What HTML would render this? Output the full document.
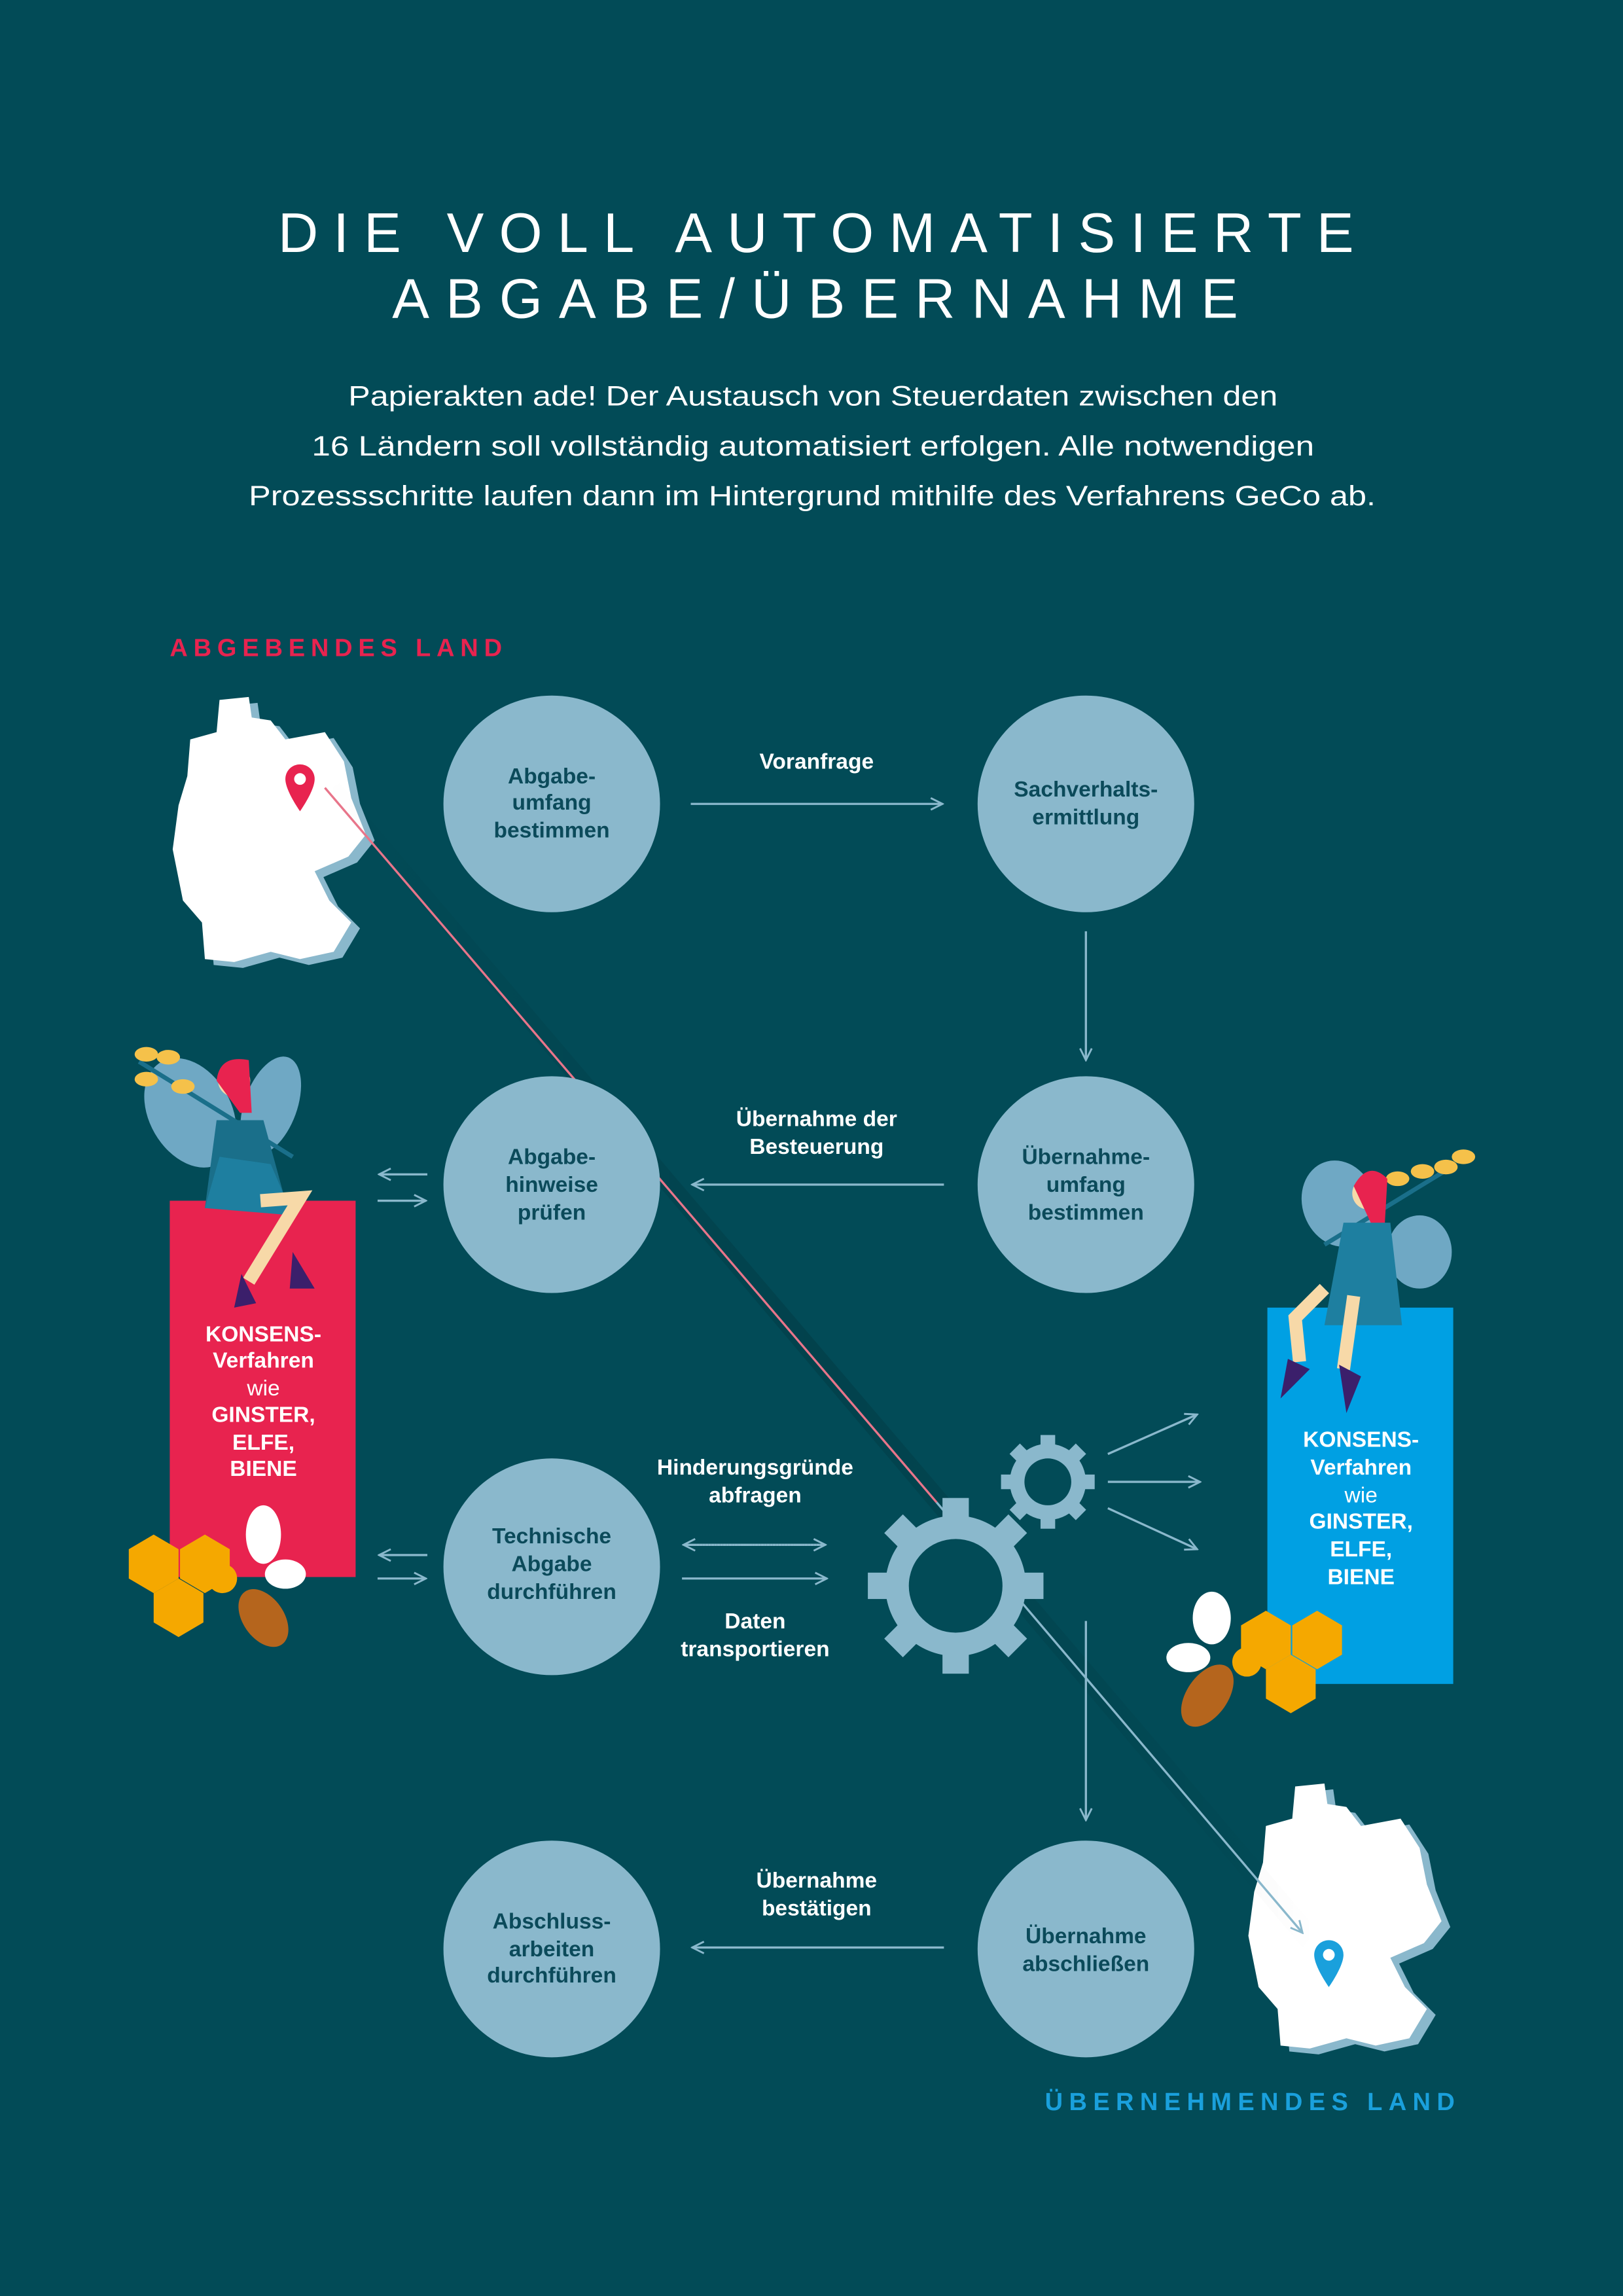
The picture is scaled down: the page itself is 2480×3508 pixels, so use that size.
<!DOCTYPE html>
<html><head><meta charset="utf-8"><style>
html,body{margin:0;padding:0;background:#024b57;}
svg{display:block;}
text{font-family:"Liberation Sans",sans-serif;}
</style></head><body>
<svg width="2480" height="3508" viewBox="0 0 1109 1568" preserveAspectRatio="none" xmlns="http://www.w3.org/2000/svg">
<defs>
<marker id="ah" markerWidth="10" markerHeight="10" refX="9" refY="5" orient="auto" markerUnits="userSpaceOnUse">
<path d="M1,1 L9,5 L1,9" fill="none" stroke="#8ab8cc" stroke-width="1.3"/></marker>
<linearGradient id="sh" x1="0" y1="0" x2="1" y2="0"><stop offset="0" stop-color="#000" stop-opacity="0"/><stop offset="0.5" stop-color="#000" stop-opacity="0.25"/><stop offset="1" stop-color="#000" stop-opacity="0"/></linearGradient>
<g id="de">
<polygon points="150,478 170,476 172,490 185,492 195,505 222,500 235,520 240,545 250,570 238,585 215,595 225,615 240,630 228,650 205,655 185,650 160,657 140,655 138,630 125,615 118,580 122,550 128,530 130,505 148,500"/>
</g>
</defs>
<rect width="1109" height="1568" fill="#024b57"/>

<text x="190" y="172" font-size="38" fill="#fff" textLength="735" lengthAdjust="spacing">DIE VOLL AUTOMATISIERTE</text>
<text x="268" y="217" font-size="38" fill="#fff" textLength="578" lengthAdjust="spacing">ABGABE/ÜBERNAHME</text>

<text x="238" y="277" font-size="19" fill="#fff" textLength="635" lengthAdjust="spacingAndGlyphs">Papierakten ade! Der Austausch von Steuerdaten zwischen den</text>
<text x="213" y="311" font-size="19" fill="#fff" textLength="685" lengthAdjust="spacingAndGlyphs">16 Ländern soll vollständig automatisiert erfolgen. Alle notwendigen</text>
<text x="170" y="345" font-size="19" fill="#fff" textLength="770" lengthAdjust="spacingAndGlyphs">Prozessschritte laufen dann im Hintergrund mithilfe des Verfahrens GeCo ab.</text>

<text x="116" y="448" font-size="17" font-weight="bold" fill="#e8234f" textLength="227" lengthAdjust="spacing">ABGEBENDES LAND</text>
<text x="714" y="1441" font-size="17" font-weight="bold" fill="#1aa0dc" textLength="280" lengthAdjust="spacing">ÜBERNEHMENDES LAND</text>

<!-- maps -->
<use href="#de" fill="#8ab8cc" transform="translate(6,4)"/>
<use href="#de" fill="#fff"/>
<use href="#de" fill="#8ab8cc" transform="translate(741,746)"/>
<use href="#de" fill="#fff" transform="translate(735,742)"/>
<!-- diagonal line -->
<polygon points="222,540 232,535 900,1318 890,1330" fill="url(#sh)" opacity="0.5"/>
<line x1="222" y1="538" x2="640" y2="1026" stroke="#e8758a" stroke-width="1.5"/>
<line x1="640" y1="1026" x2="890" y2="1320" stroke="#8ab8cc" stroke-width="1.5" marker-end="url(#ah)"/>
<path d="M205,522 a10,10 0 0 1 10,10 c0,8 -10,22 -10,22 c0,0 -10,-14 -10,-22 a10,10 0 0 1 10,-10z" fill="#e8234f"/>
<circle cx="205" cy="532" r="4" fill="#fff"/>
<path d="M908,1325 a10,10 0 0 1 10,10 c0,8 -10,22 -10,22 c0,0 -10,-14 -10,-22 a10,10 0 0 1 10,-10z" fill="#1aa0dc"/>
<circle cx="908" cy="1335" r="4" fill="#fff"/>

<!-- circles -->
<g fill="#8ab8cc">
<circle cx="377" cy="549" r="74"/><circle cx="742" cy="549" r="74"/>
<circle cx="377" cy="809" r="74"/><circle cx="742" cy="809" r="74"/>
<circle cx="377" cy="1070" r="74"/>
<circle cx="377" cy="1331" r="74"/><circle cx="742" cy="1331" r="74"/>
</g>
<g font-size="15" font-weight="bold" fill="#0b4a5a" text-anchor="middle">
<text x="377" y="535">Abgabe-</text><text x="377" y="553">umfang</text><text x="377" y="572">bestimmen</text>
<text x="742" y="544">Sachverhalts-</text><text x="742" y="563">ermittlung</text>
<text x="377" y="795">Abgabe-</text><text x="377" y="814">hinweise</text><text x="377" y="833">prüfen</text>
<text x="742" y="795">Übernahme-</text><text x="742" y="814">umfang</text><text x="742" y="833">bestimmen</text>
<text x="377" y="1054">Technische</text><text x="377" y="1073">Abgabe</text><text x="377" y="1092">durchführen</text>
<text x="377" y="1317">Abschluss-</text><text x="377" y="1336">arbeiten</text><text x="377" y="1354">durchführen</text>
<text x="742" y="1327">Übernahme</text><text x="742" y="1346">abschließen</text>
</g>

<!-- arrows -->
<g stroke="#8ab8cc" stroke-width="1.5" fill="none">
<line x1="472" y1="549" x2="644" y2="549" marker-end="url(#ah)"/>
<line x1="742" y1="636" x2="742" y2="724" marker-end="url(#ah)"/>
<line x1="645" y1="809" x2="473" y2="809" marker-end="url(#ah)"/>
<line x1="645" y1="1330" x2="473" y2="1330" marker-end="url(#ah)"/>
<line x1="742" y1="1107" x2="742" y2="1243" marker-end="url(#ah)"/>
<line x1="292" y1="802" x2="259" y2="802" marker-end="url(#ah)"/>
<line x1="258" y1="820" x2="291" y2="820" marker-end="url(#ah)"/>
<line x1="292" y1="1062" x2="259" y2="1062" marker-end="url(#ah)"/>
<line x1="258" y1="1078" x2="291" y2="1078" marker-end="url(#ah)"/>
<line x1="470" y1="1055" x2="564" y2="1055" stroke-dasharray="2,2" marker-end="url(#ah)"/>
<line x1="562" y1="1055" x2="467" y2="1055" stroke-dasharray="2,2" marker-end="url(#ah)"/>
<line x1="466" y1="1078" x2="565" y2="1078" marker-end="url(#ah)"/>
<line x1="757" y1="993" x2="818" y2="966" marker-end="url(#ah)"/>
<line x1="757" y1="1012" x2="820" y2="1012" marker-end="url(#ah)"/>
<line x1="757" y1="1030" x2="818" y2="1058" marker-end="url(#ah)"/>
</g>
<g font-size="15" font-weight="bold" fill="#fff" text-anchor="middle">
<text x="558" y="525">Voranfrage</text>
<text x="558" y="769">Übernahme der</text><text x="558" y="788">Besteuerung</text>
<text x="516" y="1007">Hinderungsgründe</text><text x="516" y="1026">abfragen</text>
<text x="516" y="1112">Daten</text><text x="516" y="1131">transportieren</text>
<text x="558" y="1289">Übernahme</text><text x="558" y="1308">bestätigen</text>
</g>

<!-- gears -->
<g fill="#8ab8cc">
<g transform="translate(653,1083)">
<circle r="48"/>
<g id="t8"><rect x="-9" y="-60" width="18" height="16"/><rect x="-9" y="44" width="18" height="16"/></g>
<use href="#t8" transform="rotate(45)"/><use href="#t8" transform="rotate(90)"/><use href="#t8" transform="rotate(135)"/>
<circle r="32" fill="#024b57"/>
</g>
<g transform="translate(716,1012)">
<circle r="26"/>
<g id="t9"><rect x="-5" y="-32" width="10" height="9"/><rect x="-5" y="23" width="10" height="9"/></g>
<use href="#t9" transform="rotate(45)"/><use href="#t9" transform="rotate(90)"/><use href="#t9" transform="rotate(135)"/>
<circle r="16" fill="#024b57"/>
</g>
</g>

<!-- red box -->
<rect x="116" y="820" width="127" height="257" fill="#e8234f"/>
<g font-size="15" font-weight="bold" fill="#fff" text-anchor="middle">
<text x="180" y="916">KONSENS-</text><text x="180" y="934">Verfahren</text>
<text x="180" y="953" font-weight="normal">wie</text>
<text x="180" y="971">GINSTER,</text><text x="180" y="990">ELFE,</text><text x="180" y="1008">BIENE</text>
</g>
<!-- blue box -->
<rect x="866" y="893" width="127" height="257" fill="#00a0e3"/>
<g font-size="15" font-weight="bold" fill="#fff" text-anchor="middle">
<text x="930" y="988">KONSENS-</text><text x="930" y="1007">Verfahren</text>
<text x="930" y="1026" font-weight="normal">wie</text>
<text x="930" y="1044">GINSTER,</text><text x="930" y="1063">ELFE,</text><text x="930" y="1082">BIENE</text>
</g>

<!-- fairy left -->
<g>
<ellipse cx="130" cy="760" rx="28" ry="40" fill="#6fa8c4" transform="rotate(-30 130 760)"/>
<ellipse cx="185" cy="755" rx="18" ry="35" fill="#6fa8c4" transform="rotate(20 185 755)"/>
<path d="M95,725 L200,790" stroke="#1a6f8a" stroke-width="3"/>
<ellipse cx="100" cy="720" rx="8" ry="5" fill="#f5c14a"/><ellipse cx="115" cy="722" rx="8" ry="5" fill="#f5c14a"/><ellipse cx="100" cy="737" rx="8" ry="5" fill="#f5c14a"/><ellipse cx="125" cy="742" rx="8" ry="5" fill="#f5c14a"/>
<path d="M148,765 L180,765 L195,820 L140,825 Z" fill="#1a6f8a"/>
<path d="M140,825 L150,790 L185,795 L200,830 Z" fill="#1e7fa0"/>
<circle cx="160" cy="738" r="11" fill="#f7d9a8"/>
<path d="M148,738 Q150,720 170,724 L172,760 L164,760 Z" fill="#e8234f"/>
<path d="M178,820 L205,818 L170,875" stroke="#f7d9a8" stroke-width="9" fill="none"/>
<path d="M165,870 L175,890 L160,893 Z" fill="#3b1f6b"/>
<path d="M200,855 L215,880 L198,880 Z" fill="#3b1f6b"/>
</g>
<!-- fairy right -->
<g>
<ellipse cx="915" cy="822" rx="25" ry="30" fill="#6fa8c4" transform="rotate(-20 915 822)"/>
<ellipse cx="970" cy="855" rx="22" ry="25" fill="#6fa8c4"/>
<path d="M905,850 L995,795" stroke="#1a6f8a" stroke-width="3"/>
<ellipse cx="955" cy="805" rx="8" ry="5" fill="#f5c14a"/><ellipse cx="972" cy="800" rx="8" ry="5" fill="#f5c14a"/><ellipse cx="988" cy="797" rx="8" ry="5" fill="#f5c14a"/><ellipse cx="1000" cy="790" rx="8" ry="5" fill="#f5c14a"/>
<circle cx="935" cy="815" r="11" fill="#f7d9a8"/>
<path d="M925,810 Q935,792 948,805 L946,840 L938,838 Z" fill="#e8234f"/>
<path d="M918,835 L950,835 L958,905 L905,905 Z" fill="#1e7fa0"/>
<path d="M905,880 L885,900 L888,930" stroke="#f7d9a8" stroke-width="9" fill="none"/>
<path d="M925,885 L918,935" stroke="#f7d9a8" stroke-width="9" fill="none"/>
<path d="M880,928 L895,935 L875,955 Z" fill="#3b1f6b"/>
<path d="M915,932 L930,940 L920,965 Z" fill="#3b1f6b"/>
</g>

<!-- honeycomb + bee left -->
<g fill="#f5a800">
<polygon points="105,1048 122,1058 122,1078 105,1088 88,1078 88,1058"/>
<polygon points="140,1048 157,1058 157,1078 140,1088 123,1078 123,1058"/>
<polygon points="122,1078 139,1088 139,1108 122,1118 105,1108 105,1088"/>
</g>
<g>
<ellipse cx="180" cy="1048" rx="12" ry="20" fill="#fff"/>
<ellipse cx="195" cy="1075" rx="14" ry="10" fill="#fff"/>
<ellipse cx="180" cy="1105" rx="14" ry="22" fill="#b5651d" transform="rotate(-35 180 1105)"/>
<circle cx="152" cy="1078" r="10" fill="#f5a800"/>
</g>
<!-- honeycomb + bee right -->
<g fill="#f5a800">
<polygon points="865,1100 882,1110 882,1130 865,1140 848,1130 848,1110"/>
<polygon points="900,1100 917,1110 917,1130 900,1140 883,1130 883,1110"/>
<polygon points="882,1130 899,1140 899,1160 882,1170 865,1160 865,1140"/>
</g>
<g>
<ellipse cx="828" cy="1105" rx="13" ry="18" fill="#fff"/>
<ellipse cx="812" cy="1132" rx="15" ry="10" fill="#fff"/>
<ellipse cx="825" cy="1158" rx="14" ry="24" fill="#b5651d" transform="rotate(35 825 1158)"/>
<circle cx="852" cy="1135" r="10" fill="#f5a800"/>
</g>
</svg>
</body></html>
